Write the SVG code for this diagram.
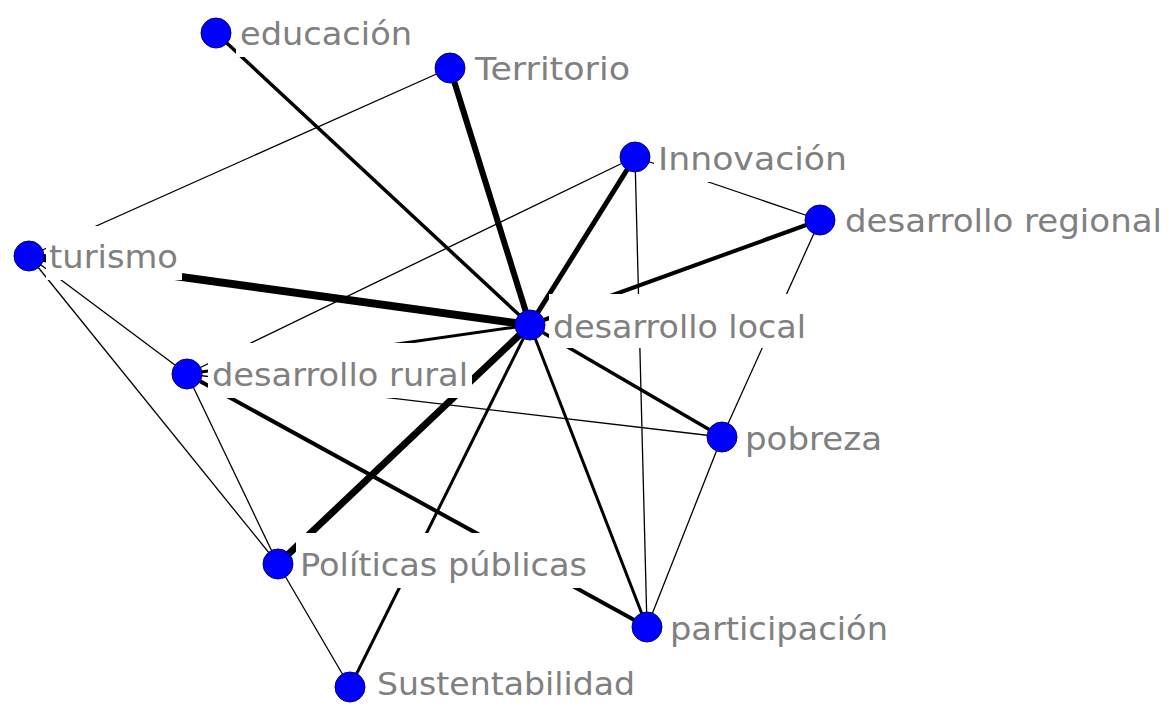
<svg xmlns="http://www.w3.org/2000/svg" width="1172" height="706" viewBox="0 0 1172 706">
<style>
.e{stroke:#000;stroke-linecap:butt;fill:none}
.t1{stroke-width:1.3}
.lb{fill:#fff}
.tx{font-family:"DejaVu Sans",Verdana,sans-serif;font-size:32px;fill:#808080}
.nd{fill:#0000ff;stroke:#00007a;stroke-width:1}
</style>
<rect width="1172" height="706" fill="#fff"/>
<g id="connectors">
<line class="e" x1="29" y1="256" x2="530" y2="325" stroke-width="8"/>
<line class="e" x1="450" y1="68" x2="530" y2="325" stroke-width="6"/>
<line class="e" x1="278" y1="564" x2="530" y2="325" stroke-width="7"/>
<line class="e" x1="635" y1="157" x2="530" y2="325" stroke-width="5"/>
<line class="e" x1="820" y1="220" x2="530" y2="325" stroke-width="4"/>
<line class="e" x1="216" y1="33" x2="530" y2="325" stroke-width="3.5"/>
<line class="e" x1="187" y1="374" x2="647" y2="627" stroke-width="4"/>
<line class="e" x1="530" y1="325" x2="722" y2="437" stroke-width="3.5"/>
<line class="e" x1="530" y1="325" x2="647" y2="627" stroke-width="3"/>
<line class="e" x1="530" y1="325" x2="350" y2="687" stroke-width="3"/>
<line class="e" x1="530" y1="325" x2="187" y2="374" stroke-width="3"/>
<line class="e t1" x1="450" y1="68" x2="29" y2="256"/>
<line class="e t1" x1="635" y1="157" x2="187" y2="374"/>
<line class="e t1" x1="635" y1="157" x2="820" y2="220"/>
<line class="e t1" x1="635" y1="157" x2="647" y2="627"/>
<line class="e t1" x1="820" y1="220" x2="722" y2="437"/>
<line class="e t1" x1="722" y1="437" x2="647" y2="627"/>
<line class="e t1" x1="187" y1="374" x2="722" y2="437"/>
<line class="e t1" x1="29" y1="256" x2="187" y2="374"/>
<line class="e t1" x1="29" y1="256" x2="278" y2="564"/>
<line class="e t1" x1="187" y1="374" x2="278" y2="564"/>
<line class="e t1" x1="278" y1="564" x2="350" y2="687"/>
</g>
<g id="n-educacion">
<rect class="lb" x="236" y="2" width="180" height="55"/>
<text class="tx" x="240" y="45" textLength="172" lengthAdjust="spacingAndGlyphs">educación</text>
<circle class="nd" cx="216" cy="33" r="15"/>
</g>
<g id="n-territorio">
<rect class="lb" x="471" y="37" width="163" height="55"/>
<text class="tx" x="475" y="80" textLength="155" lengthAdjust="spacingAndGlyphs">Territorio</text>
<circle class="nd" cx="450" cy="68" r="15"/>
</g>
<g id="n-innovacion">
<rect class="lb" x="654" y="127" width="197" height="55"/>
<text class="tx" x="658" y="170" textLength="189" lengthAdjust="spacingAndGlyphs">Innovación</text>
<circle class="nd" cx="635" cy="157" r="15"/>
</g>
<g id="n-regional">
<rect class="lb" x="841" y="189" width="325" height="55"/>
<text class="tx" x="845" y="232" textLength="317" lengthAdjust="spacingAndGlyphs">desarrollo regional</text>
<circle class="nd" cx="820" cy="220" r="15"/>
</g>
<g id="n-turismo">
<rect class="lb" x="46" y="226" width="136" height="54"/>
<text class="tx" x="49" y="268" textLength="129" lengthAdjust="spacingAndGlyphs">turismo</text>
<circle class="nd" cx="29" cy="256" r="15"/>
</g>
<g id="n-local">
<rect class="lb" x="549" y="294" width="262" height="54"/>
<text class="tx" x="553" y="338" textLength="253" lengthAdjust="spacingAndGlyphs">desarrollo local</text>
<circle class="nd" cx="530" cy="325" r="15"/>
</g>
<g id="n-rural">
<rect class="lb" x="208" y="343" width="264" height="55"/>
<text class="tx" x="212" y="386" textLength="256" lengthAdjust="spacingAndGlyphs">desarrollo rural</text>
<circle class="nd" cx="187" cy="374" r="15"/>
</g>
<g id="n-pobreza">
<rect class="lb" x="741" y="407" width="145" height="55"/>
<text class="tx" x="745" y="450" textLength="137" lengthAdjust="spacingAndGlyphs">pobreza</text>
<circle class="nd" cx="722" cy="437" r="15"/>
</g>
<g id="n-politicas">
<rect class="lb" x="296" y="533" width="295" height="55"/>
<text class="tx" x="300" y="576" textLength="287" lengthAdjust="spacingAndGlyphs">Políticas públicas</text>
<circle class="nd" cx="278" cy="564" r="15"/>
</g>
<g id="n-participacion">
<rect class="lb" x="666" y="597" width="226" height="55"/>
<text class="tx" x="670" y="640" textLength="218" lengthAdjust="spacingAndGlyphs">participación</text>
<circle class="nd" cx="647" cy="627" r="15"/>
</g>
<g id="n-sustentabilidad">
<rect class="lb" x="373" y="652" width="266" height="54"/>
<text class="tx" x="377" y="695" textLength="258" lengthAdjust="spacingAndGlyphs">Sustentabilidad</text>
<circle class="nd" cx="350" cy="687" r="15"/>
</g>
</svg>
